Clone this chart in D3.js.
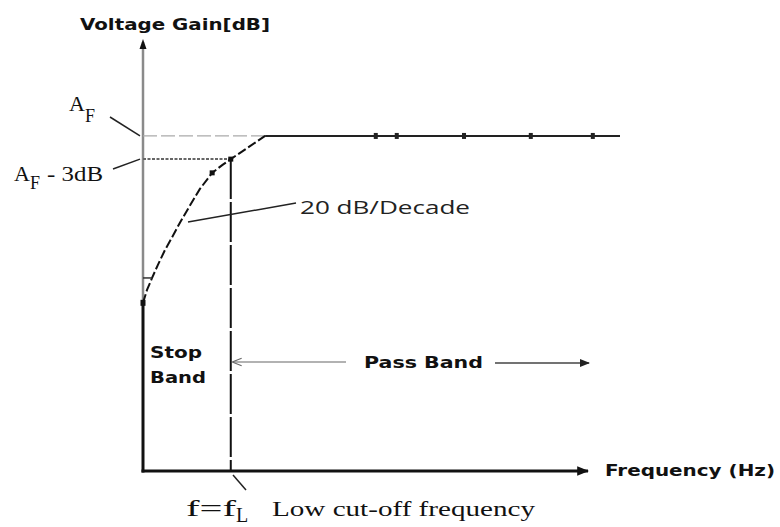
<!DOCTYPE html>
<html>
<head>
<meta charset="utf-8">
<script src="https://cdn.jsdelivr.net/npm/d3@7"></script>
<style>
  body { margin: 0; background: #fff; }
  svg { display: block; }
  .bold { font-family: "DejaVu Sans", sans-serif; font-weight: bold; fill: #111; }
  .serif { font-family: "Liberation Serif", "DejaVu Serif", serif; fill: #111; }
</style>
</head>
<body>
<svg id="chart" width="780" height="527"></svg>
<script>
// frequency axis in arbitrary units (0..100), gain in arbitrary units (0..100)
var gainAF = 78.1;
var gainAF3 = 72.7;
var cutoffX = 18.4;
var kneeX = 25.6;
var flatEndX = 100;
var stopBottom = 39.2;

// roll-off curve (rising at 20 dB/decade)
var curveX = [0, 0.84, 1.9, 3.1, 4.6, 6.1, 7.8, 9.9, 11.9, 14.5, 16.6, 18.4, 25.6];
var curveY = [39.2, 42.2, 45.0, 48.0, 51.5, 54.5, 58.0, 62.0, 65.7, 69.5, 71.3, 72.7, 78.1];

// small marks on the flat pass band line
var flatDotsX = [48.8, 53.2, 67.3, 81.3, 94.3];
var curveDotsX = [14.5, 18.4];
var curveDotsY = [69.5, 72.7];

const svg = d3.select("#chart");

var x_scale = d3.scaleLinear().domain([0, 100]).range([143, 620]);
var y_scale = d3.scaleLinear().domain([0, 100]).range([471, 42]);

const defs = svg.append("defs");
defs.append("marker")
  .attr("id", "headFill")
  .attr("viewBox", "0 0 10 10")
  .attr("refX", 9).attr("refY", 5)
  .attr("markerWidth", 4).attr("markerHeight", 4)
  .attr("markerUnits", "strokeWidth")
  .attr("orient", "auto")
  .append("path").attr("d", "M0,1 L10,5 L0,9 Z").attr("fill", "#111");
defs.append("marker")
  .attr("id", "headSmall")
  .attr("viewBox", "0 0 10 10")
  .attr("refX", 9).attr("refY", 5)
  .attr("markerWidth", 7).attr("markerHeight", 7)
  .attr("markerUnits", "strokeWidth")
  .attr("orient", "auto")
  .append("path").attr("d", "M0,1 L10,5 L0,9 Z").attr("fill", "#222");
defs.append("marker")
  .attr("id", "headOpen")
  .attr("viewBox", "0 0 10 10")
  .attr("refX", 9).attr("refY", 5)
  .attr("markerWidth", 8).attr("markerHeight", 8)
  .attr("markerUnits", "strokeWidth")
  .attr("orient", "auto")
  .append("path").attr("d", "M0,1 L10,5 L0,9").attr("fill", "none").attr("stroke", "#666").attr("stroke-width", 1.2);

// y axis: grey upper part, black lower part
svg.append("line")
  .attr("x1", x_scale(0)).attr("x2", x_scale(0))
  .attr("y1", y_scale(stopBottom)).attr("y2", 42)
  .attr("stroke", "#8a8a8a").attr("stroke-width", 2.5);
svg.append("path")
  .attr("d", "M" + (x_scale(0) - 3.5) + ",49 L" + x_scale(0) + ",39 L" + (x_scale(0) + 3.5) + ",49 Z")
  .attr("fill", "#111");
svg.append("line")
  .attr("x1", x_scale(0)).attr("x2", x_scale(0))
  .attr("y1", y_scale(stopBottom)).attr("y2", y_scale(0) + 1.5)
  .attr("stroke", "#111").attr("stroke-width", 3);

// x axis
svg.append("line")
  .attr("x1", x_scale(0) - 1.5).attr("x2", 588)
  .attr("y1", y_scale(0)).attr("y2", y_scale(0))
  .attr("stroke", "#111").attr("stroke-width", 3)
  .attr("marker-end", "url(#headFill)");

// A_F reference (dashed) and flat pass band line
svg.append("line")
  .attr("x1", x_scale(0)).attr("x2", x_scale(kneeX))
  .attr("y1", y_scale(gainAF)).attr("y2", y_scale(gainAF))
  .attr("stroke", "#aaa").attr("stroke-width", 1.2)
  .attr("stroke-dasharray", "14,4");
svg.append("line")
  .attr("x1", x_scale(kneeX)).attr("x2", x_scale(flatEndX))
  .attr("y1", y_scale(gainAF)).attr("y2", y_scale(gainAF))
  .attr("stroke", "#222").attr("stroke-width", 2);

svg.append("g").selectAll("rect")
  .data(flatDotsX)
  .enter()
  .append("rect")
  .attr("x", d => x_scale(d) - 2).attr("y", y_scale(gainAF) - 3)
  .attr("width", 4).attr("height", 6)
  .attr("fill", "#222");

// A_F - 3dB reference (dotted)
svg.append("line")
  .attr("x1", x_scale(0)).attr("x2", x_scale(cutoffX))
  .attr("y1", y_scale(gainAF3)).attr("y2", y_scale(gainAF3))
  .attr("stroke", "#666").attr("stroke-width", 2)
  .attr("stroke-dasharray", "3,1.5");

// cut-off vertical
svg.append("line")
  .attr("x1", x_scale(cutoffX)).attr("x2", x_scale(cutoffX))
  .attr("y1", y_scale(gainAF3)).attr("y2", y_scale(0))
  .attr("stroke", "#111").attr("stroke-width", 2)
  .attr("stroke-dasharray", "40,3");

// roll-off curve
var curveData = curveX.map((d, i) => ({x: d, y: curveY[i]}));
svg.append("path")
  .datum(curveData)
  .attr("fill", "none")
  .attr("stroke", "#111")
  .attr("stroke-width", 2)
  .attr("stroke-dasharray", "9,3")
  .attr("d", d3.line().x(d => x_scale(d.x)).y(d => y_scale(d.y)));

// small hook near the bottom of the curve
svg.append("line")
  .attr("x1", x_scale(0)).attr("x2", x_scale(curveX[2]))
  .attr("y1", y_scale(curveY[2])).attr("y2", y_scale(curveY[2]))
  .attr("stroke", "#333").attr("stroke-width", 1.5);

svg.append("g").selectAll("rect")
  .data(curveDotsX)
  .enter()
  .append("rect")
  .attr("x", d => x_scale(d) - 2.5)
  .attr("y", (d, i) => y_scale(curveDotsY[i]) - 2.5)
  .attr("width", 5).attr("height", 5)
  .attr("fill", "#111");
svg.append("rect")
  .attr("x", x_scale(0) - 2.5).attr("y", y_scale(stopBottom) - 3)
  .attr("width", 5).attr("height", 6).attr("fill", "#111");

// leader lines
const leaders = [
  [110, 117, x_scale(0) - 3, y_scale(gainAF)],
  [113, 169, x_scale(0) - 3, y_scale(gainAF3)],
  [296, 203, 188, 222],
  [233, 475, 246, 490]
];
svg.append("g").selectAll("line")
  .data(leaders)
  .enter()
  .append("line")
  .attr("x1", d => d[0]).attr("y1", d => d[1])
  .attr("x2", d => d[2]).attr("y2", d => d[3])
  .attr("stroke", "#222").attr("stroke-width", 1.5);

// pass band arrows
svg.append("line")
  .attr("x1", 346).attr("x2", 233)
  .attr("y1", 362).attr("y2", 362)
  .attr("stroke", "#666").attr("stroke-width", 1.2)
  .attr("marker-end", "url(#headOpen)");
svg.append("line")
  .attr("x1", 495).attr("x2", 589)
  .attr("y1", 363).attr("y2", 363)
  .attr("stroke", "#444").attr("stroke-width", 1.5)
  .attr("marker-end", "url(#headSmall)");

// texts
svg.append("text").attr("class", "bold")
  .attr("x", 80).attr("y", 30).attr("font-size", 15)
  .attr("textLength", 190).attr("lengthAdjust", "spacingAndGlyphs")
  .text("Voltage Gain[dB]");

svg.append("text").attr("class", "bold")
  .attr("x", 150).attr("y", 358).attr("font-size", 15)
  .attr("textLength", 52).attr("lengthAdjust", "spacingAndGlyphs")
  .text("Stop");
svg.append("text").attr("class", "bold")
  .attr("x", 150).attr("y", 383).attr("font-size", 15)
  .attr("textLength", 56).attr("lengthAdjust", "spacingAndGlyphs")
  .text("Band");

svg.append("text").attr("class", "bold")
  .attr("x", 364).attr("y", 368).attr("font-size", 15)
  .attr("textLength", 119).attr("lengthAdjust", "spacingAndGlyphs")
  .text("Pass Band");

svg.append("text").attr("class", "bold")
  .attr("x", 605).attr("y", 476).attr("font-size", 15)
  .attr("textLength", 170).attr("lengthAdjust", "spacingAndGlyphs")
  .text("Frequency (Hz)");

svg.append("text")
  .attr("x", 300).attr("y", 214)
  .attr("font-family", "'Open Sans', sans-serif")
  .attr("font-size", 18).attr("fill", "#222")
  .attr("textLength", 170).attr("lengthAdjust", "spacingAndGlyphs")
  .text("20 dB/Decade");

// A_F labels (serif with subscripts)
const af = svg.append("text").attr("class", "serif")
  .attr("x", 69).attr("y", 111).attr("font-size", 22);
af.append("tspan").text("A");
af.append("tspan").attr("dy", 11).attr("font-size", 18).text("F");

const af3 = svg.append("text").attr("class", "serif")
  .attr("x", 14).attr("y", 181).attr("font-size", 22);
af3.append("tspan").text("A");
af3.append("tspan").attr("dy", 8).attr("font-size", 18).text("F");
af3.append("tspan").attr("dy", -8).attr("x", 47).attr("font-size", 20)
  .attr("textLength", 56).attr("lengthAdjust", "spacingAndGlyphs").text("- 3dB");

const fl = svg.append("text").attr("class", "serif")
  .attr("x", 186).attr("y", 516).attr("font-size", 24);
fl.append("tspan").attr("textLength", 50).attr("lengthAdjust", "spacingAndGlyphs").text("f=f");
fl.append("tspan").attr("dy", 6).attr("font-size", 20).text("L");
fl.append("tspan").attr("dy", -6).attr("x", 272).attr("font-size", 22)
  .attr("textLength", 263).attr("lengthAdjust", "spacingAndGlyphs").text("Low cut-off frequency");
</script>
</body>
</html>
